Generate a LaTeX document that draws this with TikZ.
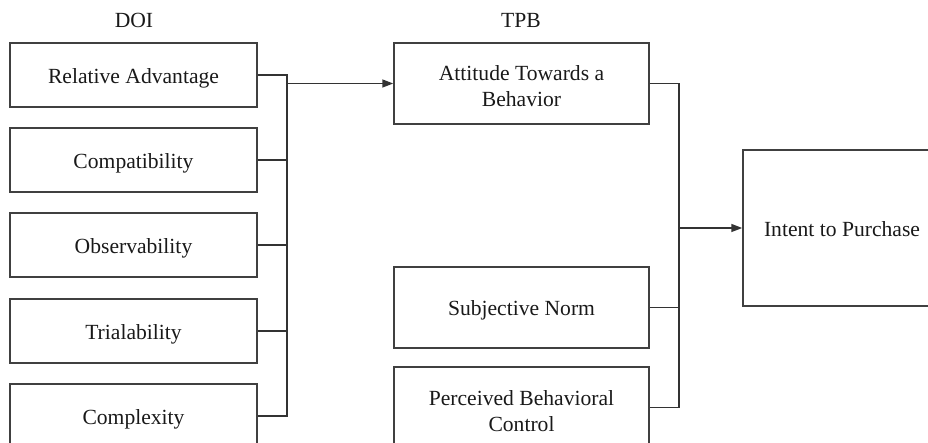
\documentclass[tikz,border=0pt]{standalone}
\usepackage{fontspec}
\setmainfont{Liberation Serif}
\usetikzlibrary{arrows.meta}
% invisible struts fixing the first-line height and last-line depth of box texts
\newcommand\boxstrut{\rule[-5bp]{0pt}{27bp}}
\newcommand\topstrut{\rule{0pt}{26bp}}
\newcommand\botstrut{\rule[-5bp]{0pt}{5bp}}
\begin{document}
\begin{tikzpicture}[x=1bp,y=-1bp,
  every node/.style={font=\fontsize{21.6bp}{26bp}\selectfont, text=black!90},
  factor/.style={draw=black!75, line width=1.5bp, rectangle, inner sep=0pt, align=center},
  strutted/.style={execute at begin node=\boxstrut, execute at end node=\boxstrut},
  doibox/.style={factor, strutted, minimum width=247bp, minimum height=64bp},
  tpbbox/.style={factor, minimum width=255bp, minimum height=81bp},
  link/.style={draw=black!80, line width=1.5bp},
  arr/.style={link, -{Triangle[length=11bp,width=8bp]}}]
\useasboundingbox (0,0) rectangle (928,443);
% headings
\node (doi) at (134,20) {DOI};
\node (tpb) at (521,20) {TPB};
% diffusion of innovation factors
\node[doibox] (ra)  at (133.5,75)  {Relative Advantage};
\node[doibox] (cmp) at (133.5,160) {Compatibility};
\node[doibox] (obs) at (133.5,245) {Observability};
\node[doibox] (tri) at (133.5,331) {Trialability};
\node[doibox] (cx)  at (133.5,416) {Complexity};
% theory of planned behaviour factors
\node[tpbbox] (att) at (521.5,83.5)  {\topstrut Attitude Towards a\\Behavior\botstrut};
\node[tpbbox, strutted] (sn) at (521.5,307.5) {Subjective Norm};
\node[tpbbox] (pbc) at (521.5,407.5) {\topstrut Perceived Behavioral\\Control\botstrut};
% outcome
\node[factor, strutted, minimum width=198bp, minimum height=156bp] (int) at (842,228) {Intent to Purchase};
% DOI bus
\draw[link] (ra.east) -- ++(29,0) coordinate (b1) |- (cx.east);
\draw[link] (cmp.east) -- (cmp.east -| b1);
\draw[link] (obs.east) -- (obs.east -| b1);
\draw[link] (tri.east) -- (tri.east -| b1);
\draw[arr] (b1 |- att.west) -- (att.west);
% TPB bus
\draw[link] (att.east) -- ++(29,0) coordinate (b2) |- (pbc.east);
\draw[link] (sn.east) -- (sn.east -| b2);
\draw[arr] (b2 |- int.west) -- (int.west);
\end{tikzpicture}
\end{document}
